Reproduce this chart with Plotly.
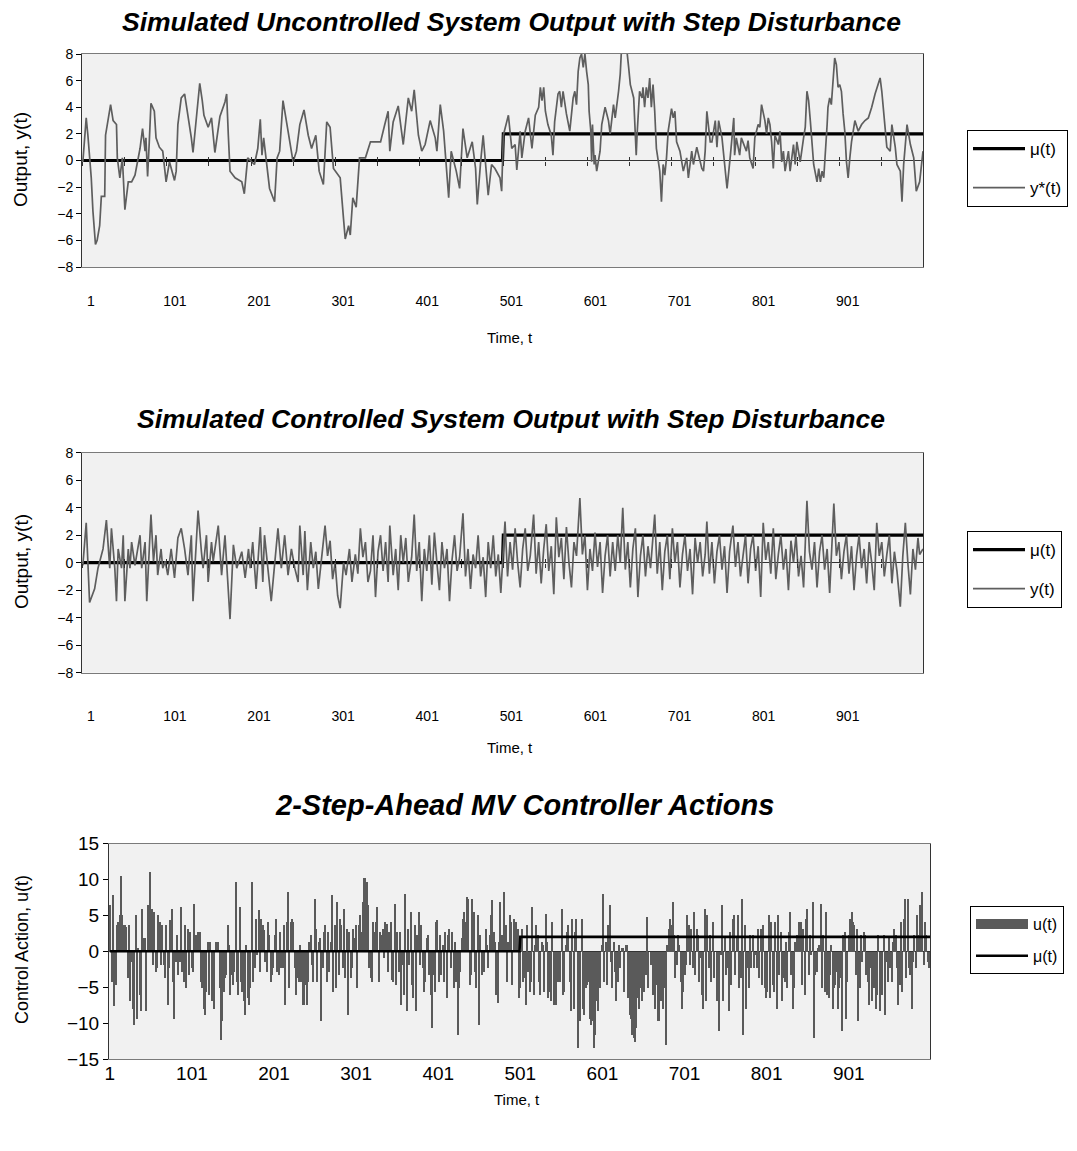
import numpy as np
import plotly.graph_objects as go

# ---------------- data ----------------
tick_t = [1, 101, 201, 301, 401, 501, 601, 701, 801, 901]
tick_lbl = [str(v) for v in tick_t]
minor_t = list(range(1, 1001, 50))   # category tick marks on the zero axis

mu_t = [1, 500, 501, 1000]
mu = [0, 0, 2, 2]

# Uncontrolled output y*(t)
t_ystar = [1,5,7,11,13,16,18,21,23,27,28,31,34,37,41,42,45,48,51,55,59,63,69,72,75,76,78,80,82,86,88,92,96,100,104,110,112,114,118,122,126,130,132,136,140,143,145,150,154,158,164,170,172,174,176,182,190,193,197,205,209,212,214,216,223,229,232,235,239,245,251,
255,259,264,269,273,278,282,287,291,295,299,307,311,313,317,319,322,326,330,337,343,349,355,360,364,366,370,376,382,388,392,395,400,404,408,414,420,422,426,430,434,436,439,445,449,453,458,464,468,470,474,477,483,487,491,497,499,
501,505,507,511,515,517,521,523,527,531,535,539,543,545,547,549,551,554,558,560,562,566,568,570,572,576,580,584,586,588,590,592,594,596,598,600,602,603,605,606,607,609,610,612,616,618,622,626,628,632,634,638,640,642,644,646,648,650,652,656,658,659,660,663,666,667,669,671,673,675,677,679,681,683,687,689,691,693,695,697,701,703,705,707,711,715,719,721,725,727,731,737,739,741,743,747,
749,753,755,757,761,765,767,771,775,776,778,782,784,790,792,794,798,800,804,806,808,812,814,816,818,820,822,824,828,830,832,834,836,840,842,846,848,850,854,858,860,862,864,866,868,870,874,876,878,880,882,884,886,887,889,891,893,895,897,899,901,903,905,907,909,911,913,915,919,923,927,931,935,939,943,947,949,951,953,955,957,961,963,967,969,973,975,977,981,985,989,992,996,1000]
ystar = [-0.1,3.2,1.9,-1.3,-3.8,-6.3,-6.0,-4.9,-2.7,-2.7,1.9,2.9,4.2,3.0,2.7,0.2,-1.3,0.2,-3.7,-1.6,-1.6,-1.1,0.9,2.4,0.7,1.7,-1.2,1.4,4.3,3.7,1.7,1.0,0.7,-1.6,-0.1,-1.5,-0.8,2.7,4.7,5.0,3.4,1.7,0.6,3.4,5.8,4.5,3.4,2.5,3.2,0.6,3.3,4.4,5.0,1.9,-0.8,-1.3,-1.6,-2.5,0.2,-0.3,0.9,3.1,0.4,1.7,-2.1,-3.1,0.2,0.7,4.5,2.2,-0.1,
0.7,2.7,3.8,1.9,0.9,1.9,-0.8,-1.8,2.9,2.5,-0.6,-1.3,-4.4,-5.9,-4.9,-5.6,-2.8,-3.5,0.2,0.2,1.4,1.4,1.4,2.7,3.7,0.7,2.9,4.1,1.2,4.7,3.7,5.3,1.9,0.7,1.2,3.0,1.7,0.7,4.2,2.2,-0.8,-2.8,0.7,-0.8,-2.1,2.4,0.2,1.4,-0.6,-3.3,-0.1,1.9,-2.6,-0.3,-0.6,-1.3,-2.3,
1.9,2.9,3.4,0.9,1.2,-0.7,2.2,0.2,2.2,3.2,0.9,3.4,4.0,5.5,4.5,5.5,3.7,2.7,1.9,0.4,2.9,5.0,5.2,4.0,5.2,3.5,2.2,4.7,5.2,4.2,6.7,7.7,8.0,7.0,8.0,6.7,5.7,3.7,2.2,-0.1,2.7,-0.3,0.4,-0.8,0.7,2.7,4.0,3.0,2.0,4.2,3.2,5.2,6.5,9.0,9.7,9.0,8.2,7.0,5.7,4.7,1.2,0.4,1.9,5.2,4.7,5.5,4.0,5.5,4.7,6.2,4.0,5.7,3.7,0.9,-0.8,-3.1,-0.3,-1.1,0.2,2.2,3.9,3.2,3.7,1.4,0.7,-0.8,0.2,-1.3,0.7,-0.3,1.0,-0.6,-0.8,0.7,3.7,1.4,
1.4,3.0,1.0,3.0,1.7,-0.8,-2.1,0.4,3.2,0.4,1.7,0.4,1.7,0.7,1.5,0.2,-0.6,1.7,2.7,2.5,4.2,3.0,2.0,3.2,2.7,1.4,-0.6,1.9,1.2,2.2,-0.1,0.7,-0.8,0.7,-0.8,1.2,-0.3,1.4,-0.1,1.7,2.5,5.2,4.5,3.0,1.5,-0.3,-1.6,-0.6,-1.6,-0.8,-1.3,0.4,2.7,4.0,4.7,4.2,6.2,7.7,7.2,5.5,5.7,5.2,3.5,2.2,-0.1,-1.3,0.2,1.4,3.0,2.2,2.7,3.0,3.2,4.0,5.0,5.7,6.2,5.2,3.7,2.0,1.0,0.7,2.7,1.0,-0.3,-0.8,-3.1,-0.3,2.7,1.2,0.2,-2.3,-1.6,0.7]

# Controlled output y(t)
t_y = [1,5,9,15,19,25,29,31,33,35,39,41,43,47,49,51,55,57,59,63,69,71,75,77,82,85,88,90,94,96,99,102,106,110,114,118,122,126,130,132,138,142,144,148,150,154,156,162,166,170,176,180,184,190,194,198,200,203,207,212,215,217,221,225,233,237,241,245,249,253,
257,259,263,265,268,272,275,278,281,285,289,292,295,298,301,304,307,311,314,318,321,325,328,331,334,337,340,343,346,349,352,355,358,361,364,366,370,373,376,379,382,385,388,392,395,398,401,404,407,410,413,416,419,422,425,428,431,434,437,440,443,446,449,453,456,459,462,465,468,471,474,477,480,483,486,489,492,495,498,501,503,
506,509,512,515,518,521,524,527,530,533,537,540,543,546,549,552,555,558,561,564,567,570,573,576,579,582,585,588,592,595,598,601,604,607,610,613,616,619,622,625,628,631,634,637,640,643,646,649,652,655,658,661,664,667,670,673,676,679,681,684,687,690,693,696,699,702,705,708,711,714,717,720,723,726,729,732,735,738,741,743,746,
749,752,755,758,761,764,767,770,774,777,780,783,786,789,792,795,798,801,804,807,810,813,816,819,822,825,828,831,834,837,840,843,846,849,852,855,858,862,865,868,871,874,877,880,883,886,889,894,897,900,903,906,909,912,915,918,921,924,927,930,933,936,939,942,945,948,951,954,957,960,963,966,969,973,976,979,982,985,988,991,994,996,1000]
y = [-0.2,2.9,-2.9,-1.9,-0.4,1.0,3.1,1.5,-0.4,2.5,-0.4,-2.8,1.0,-0.4,2.0,-2.8,1.0,-0.4,1.5,-0.2,2.0,-0.4,1.5,-2.8,3.5,0.1,2.0,-0.9,1.0,-0.4,0.1,-0.9,1.0,-1.1,1.8,2.5,1.0,-0.9,2.0,-2.8,3.8,0.8,-0.4,2.0,-1.4,1.5,0.1,2.7,-0.9,2.0,-4.1,1.3,-0.4,0.8,-1.1,1.0,-0.4,1.5,-1.9,2.6,-1.4,2.0,-0.4,-2.8,2.5,-0.4,2.0,-0.9,1.0,-0.4,
-1.4,2.7,-0.9,2.3,-2.0,1.5,-0.4,0.8,-1.9,0.2,2.7,0.5,1.6,-1.2,0.0,-2.4,-3.3,0.0,-0.9,1.0,-1.4,0.6,-0.8,2.5,0.4,1.5,-1.4,-0.6,2.0,-2.5,0.8,2.0,-0.6,1.5,-1.4,2.7,-0.9,1.0,-2.0,2.0,0.0,1.8,-1.4,0.4,3.5,-0.6,1.5,-2.8,1.0,-0.6,2.0,-1.6,2.2,0.0,-2.0,1.5,-0.4,1.0,-2.8,0.2,2.0,-0.6,0.4,3.6,-1.0,1.0,-1.9,0.6,-0.4,2.0,-1.0,0.4,-2.5,1.5,-0.4,2.0,-1.0,0.6,-2.2,1.0,3.0,
-1.0,1.5,-0.5,2.5,0.0,-1.8,1.0,2.5,-0.6,0.5,3.5,-0.8,1.5,-1.5,1.0,2.8,-0.6,1.2,-2.3,3.3,0.4,1.8,-1.2,2.6,0.0,-1.8,1.5,0.5,4.7,0.6,2.0,-2.0,1.0,-0.6,2.2,-0.3,1.5,-2.2,0.5,2.0,-1.0,1.5,-0.6,2.0,0.0,4.0,-0.5,1.5,-1.8,1.0,2.5,-2.5,0.5,2.0,-1.0,1.2,-0.4,2.0,3.5,-0.8,1.5,-2.0,0.8,2.0,-1.2,2.5,0.0,1.5,-1.8,0.6,2.0,-0.6,1.0,-2.3,1.8,0.0,1.5,-1.0,0.6,3.0,-0.8,
1.5,-1.5,0.8,2.0,-0.5,1.2,-2.2,0.8,2.7,-0.3,1.5,-1.0,0.5,2.0,-1.5,1.0,2.0,-0.6,1.2,-2.5,2.9,0.2,1.5,-0.8,2.5,-1.2,0.6,2.0,-0.5,1.0,-2.0,1.6,0.0,2.0,-1.0,0.5,-1.8,4.5,0.8,-0.5,1.5,-1.8,0.8,2.0,-0.5,1.0,-2.2,4.3,0.5,1.5,-1.2,0.8,2.0,-0.8,1.2,-2.0,0.5,2.0,-0.4,1.0,-1.5,1.5,0.0,-2.0,2.9,0.5,1.5,-1.0,0.6,2.0,-1.5,0.8,-0.6,-3.2,0.5,2.9,0.0,-2.3,1.0,-0.5,1.8,0.6,1.0]

# Control action u(t)
u = [6.5,-4.2,7.9,-7.6,-4.6,3.7,4.2,5.1,10.6,5.1,3.7,3.7,3.5,-3.7,3.7,-6.9,-1.4,-7.9,-10.2,5.1,-9.3,0.5,-6.0,-8.3,6.0,1.9,1.9,-8.3,6.5,1.9,11.1,6.0,-1.9,5.6,-2.8,-2.3,5.1,4.2,-1.9,3.7,-1.9,-3.7,3.7,-7.4,-2.3,4.4,6.0,-4.2,-9.3,-1.4,2.3,-3.2,-1.4,6.3,-2.8,-4.2,3.7,-5.1,3.2,-3.2,2.8,-2.3,-2.8,6.7,2.3,2.3,2.8,2.8,-4.2,-5.1,-7.9,-8.8,-5.6,1.4,-6.0,1.4,-6.9,-6.0,-7.9,1.4,0.5,1.4,-5.1,-12.3,-9.7,-5.6,-3.7,-3.2,3.7,0.9,-6.0,-3.2,-4.6,-2.8,9.7,-4.2,-6.0,6.3,-4.2,-5.6,-6.9,-8.8,0.9,-6.5,-7.4,-5.1,9.7,-4.2,-2.3,4.6,-0.5,5.8,-2.8,4.6,3.7,3.0,-1.4,-2.8,4.2,2.3,-4.2,-3.2,-2.3,2.3,4.6,-2.8,-3.2,2.8,-2.3,-2.3,3.7,-7.4,4.2,8.3,-5.1,4.2,4.6,4.2,-2.3,-6.0,-3.7,-4.2,0.9,-4.2,-7.4,-7.4,-4.6,-7.4,-4.2,1.4,2.3,-1.9,-4.2,7.4,3.2,-4.2,1.4,1.9,-9.7,-2.3,2.8,3.7,-4.2,2.8,-2.8,1.4,7.9,-5.6,3.7,-5.1,6.9,-3.2,4.6,3.7,-2.3,6.0,-3.7,3.2,-8.8,2.8,-3.7,-2.3,3.2,1.9,3.7,-5.1,3.7,5.1,2.8,6.9,10.2,
10.2,9.7,6.5,-2.3,-3.7,-4.2,4.2,2.8,4.2,6.3,-4.2,2.8,2.3,3.2,-0.9,4.2,3.9,-2.8,2.8,4.2,-3.9,-4.2,6.7,-4.6,2.8,-2.8,2.8,-7.4,-1.9,-6.0,8.1,-8.3,3.2,-1.9,5.6,-4.6,-6.5,3.7,-8.3,2.3,5.6,-1.9,3.7,-2.3,-5.6,-4.2,1.9,2.3,-3.2,-6.0,-10.6,-3.2,-5.6,4.2,4.4,-4.2,2.3,-3.2,0.9,-4.2,2.8,-6.5,2.3,3.2,-2.3,2.8,-5.1,1.4,-4.2,-11.6,-5.1,-2.8,1.9,4.6,5.6,4.2,7.6,7.4,-4.6,-3.2,7.4,5.6,-2.8,-5.1,5.1,-10.2,2.3,-3.2,-0.5,-2.8,3.2,0.9,-2.3,2.3,5.1,7.2,2.8,1.4,-6.0,-7.2,1.4,6.9,2.3,2.3,8.3,3.7,-4.2,1.4,5.1,4.2,-4.6,4.6,3.7,4.2,3.2,-6.5,-5.1,3.2,-4.2,-3.7,-7.4,3.7,-2.8,-5.6,-4.2,6.3,-6.0,0.9,3.7,2.3,-4.2,-6.0,1.4,0.9,-5.6,5.3,1.4,-6.5,-5.6,-6.9,4.2,-7.4,-6.5,-7.4,-4.2,-2.3,-4.2,6.0,-6.0,-5.6,0.9,2.8,3.7,-4.2,-8.3,4.6,-7.9,2.8,4.6,-13.4,-4.2,-9.7,4.6,-7.9,-8.8,-5.1,-4.6,-4.2,-9.3,-10.2,-9.7,-13.4,-11.6,-6.9,-8.3,-4.2,-5.1,0.9,8.1,-4.2,1.4,-4.6,3.7,6.5,-1.4,-5.1,1.4,-2.8,-6.9,-4.2,0.9,-2.3,0.5,0.5,-5.6,0.9,0.9,-6.5,-8.8,-9.3,-11.6,-12.0,-12.5,-10.6,-6.5,-7.9,-5.1,-6.9,-4.2,-5.6,
-3.2,4.9,-5.1,0.0,-1.9,-6.0,-2.8,-7.9,-4.6,-9.7,-9.7,-6.9,-4.6,-7.9,-5.1,-13.0,0.9,3.2,4.6,3.7,6.9,2.3,-3.7,-1.9,2.3,0.9,-4.2,-7.9,-5.6,-3.2,-1.9,5.1,3.7,-1.9,3.2,-2.3,5.6,-3.2,3.2,2.3,-4.2,-0.9,-6.0,-7.9,6.0,-6.9,5.1,-2.3,2.3,-4.2,4.2,-3.7,0.0,-6.9,-2.3,-11.1,-0.5,6.5,-6.9,1.9,-3.2,-2.3,-8.3,2.8,-4.6,4.6,5.1,-3.2,1.9,5.1,-5.1,-3.7,7.4,-11.6,3.7,-7.9,-2.3,-5.1,2.3,-2.3,2.3,-2.3,-0.5,-2.3,3.2,-3.7,3.2,-4.6,3.7,-5.1,-6.5,-5.6,5.1,-6.5,4.2,-4.6,-5.6,4.2,-7.9,5.1,-3.2,2.8,-6.9,-3.7,-4.2,1.4,-5.1,2.8,5.6,-3.2,-7.9,-5.1,1.4,2.3,0.9,4.2,4.2,-4.6,3.2,-6.0,4.6,6.0,-3.2,2.3,-0.5,6.9,-12.0,-3.2,-2.8,0.5,0.9,6.7,-5.1,2.3,-5.6,5.6,-6.0,-6.5,-3.2,0.9,-7.9,-5.1,-4.6,-2.8,-7.9,-5.1,-3.7,-11.1,2.3,2.8,-9.3,-4.2,2.3,4.6,5.6,4.2,3.7,-3.2,3.2,-9.7,-5.1,2.3,-1.4,2.8,2.3,-3.2,-4.2,-7.4,-2.3,-6.9,-0.9,-5.1,-7.9,-6.0,2.3,-8.3,0.0,-6.0,2.3,-8.8,-1.4,-4.2,1.9,-2.3,-4.2,1.4,3.2,2.3,-2.3,-7.4,-4.6,4.2,-5.6,4.6,7.4,-3.7,7.4,-2.3,-3.2,-7.9,-1.4,2.3,-2.3,5.1,2.3,6.5,4.6,8.3,-1.9,4.2,2.3,-1.4,-2.3]
t_u = np.linspace(1.6, 998.8, len(u))

# ---------------- figure ----------------
FONT = "Liberation Sans, Arial, sans-serif"
W, H = 1077, 1151
PAGE_OFF = 8          # the html body margin shifts the figure by 8 px
GRAY_LINE = "#5e5e5e"
BAR_GRAY = "#5a5a5a"
BG = "#f1f1f1"


def px_x(px):
    return (px - PAGE_OFF) / W


def px_y(py):
    return 1 - (py - PAGE_OFF) / H


P1 = [px_y(267), px_y(54)]
P2 = [px_y(672.7), px_y(452.7)]
P3 = [px_y(1059), px_y(843.5)]
xdom12 = [px_x(82), px_x(923)]
xdom3 = [px_x(109), px_x(930)]

fig = go.Figure()

# Panel 1
fig.add_trace(go.Scatter(x=mu_t, y=mu, mode="lines", name="\u03bc(t)",
                         line=dict(color="black", width=3.2), xaxis="x", yaxis="y",
                         legend="legend", legendgroup="a1"))
fig.add_trace(go.Scatter(x=t_ystar, y=ystar, mode="lines", name="y*(t)",
                         line=dict(color=GRAY_LINE, width=1.7), xaxis="x", yaxis="y",
                         legend="legend", legendgroup="b1"))
# Panel 2
fig.add_trace(go.Scatter(x=mu_t, y=mu, mode="lines", name="\u03bc(t)",
                         line=dict(color="black", width=3.2), xaxis="x2", yaxis="y2",
                         legend="legend2", legendgroup="a2"))
fig.add_trace(go.Scatter(x=t_y, y=y, mode="lines", name="y(t)",
                         line=dict(color=GRAY_LINE, width=1.7), xaxis="x2", yaxis="y2",
                         legend="legend2", legendgroup="b2"))
# Panel 3 (bar legend shown as a wide grey swatch, like the original)
fig.add_trace(go.Bar(x=t_u, y=u, name="u(t)", width=1.35,
                     marker=dict(color=BAR_GRAY, line=dict(width=0)),
                     xaxis="x3", yaxis="y3", showlegend=False, legendgroup="a3"))
fig.add_trace(go.Scatter(x=[None], y=[None], mode="lines", name="u(t)",
                         line=dict(color=BAR_GRAY, width=13), xaxis="x3", yaxis="y3",
                         legend="legend3", legendgroup="a3", hoverinfo="skip"))
fig.add_trace(go.Scatter(x=mu_t, y=mu, mode="lines", name="\u03bc(t)",
                         line=dict(color="black", width=2.6), xaxis="x3", yaxis="y3",
                         legend="legend3", legendgroup="b3"))

# carrier traces for the zero-axis tick marks (no visible marks)
for xa, ya in [("x4", "y"), ("x5", "y"), ("x6", "y2"), ("x7", "y2")]:
    fig.add_trace(go.Scatter(x=[None], y=[None], xaxis=xa, yaxis=ya,
                             showlegend=False, hoverinfo="skip"))

common_x = dict(range=[0, 1000], tickmode="array", tickvals=tick_t, ticktext=tick_lbl,
                showgrid=False, zeroline=False, showline=True, mirror=True,
                linecolor="#7a7a7a", linewidth=1, ticks="", automargin=False)
common_y = dict(showgrid=False, zeroline=True, zerolinecolor="#333333", zerolinewidth=1,
                showline=True, mirror=True, linecolor="#333333", linewidth=1,
                ticks="outside", ticklen=5, tickcolor="black", automargin=False)


def zero_ticks(base, pos, direction):
    return dict(overlaying=base, anchor="free", position=pos, range=[0, 1000],
                tickmode="array", tickvals=minor_t, showticklabels=False,
                ticks=direction, ticklen=4, tickcolor="#333333", tickwidth=1,
                showline=False, showgrid=False, zeroline=False, automargin=False)


legend_common = dict(xanchor="left", yanchor="top", bordercolor="black", borderwidth=1,
                     bgcolor="white", traceorder="grouped", itemwidth=52)

fig.update_layout(
    width=W, height=H,
    margin=dict(l=0, r=0, t=0, b=0),
    paper_bgcolor="white", plot_bgcolor=BG,
    font=dict(family=FONT, color="black", size=14),
    showlegend=True,
    bargap=0,
    xaxis=dict(domain=xdom12, anchor="y", tickfont=dict(size=14),
               ticklabelstandoff=21, ticklabelshift=8, **common_x),
    yaxis=dict(domain=P1, anchor="x", range=[-8, 8], dtick=2,
               tickfont=dict(size=14), **common_y),
    xaxis2=dict(domain=xdom12, anchor="y2", tickfont=dict(size=14),
                ticklabelstandoff=30, ticklabelshift=8, **common_x),
    yaxis2=dict(domain=P2, anchor="x2", range=[-8, 8], dtick=2,
                tickfont=dict(size=14), **common_y),
    xaxis3=dict(domain=xdom3, anchor="y3", tickfont=dict(size=19),
                ticklabelstandoff=-3, **common_x),
    yaxis3=dict(domain=P3, anchor="x3", range=[-15, 15], dtick=5,
                tickfont=dict(size=19), **common_y),
    xaxis4=zero_ticks("x", (P1[0] + P1[1]) / 2, "outside"),
    xaxis5=zero_ticks("x", (P1[0] + P1[1]) / 2, "inside"),
    xaxis6=zero_ticks("x2", (P2[0] + P2[1]) / 2, "outside"),
    xaxis7=zero_ticks("x2", (P2[0] + P2[1]) / 2, "inside"),
    legend=dict(x=px_x(967), y=px_y(130), tracegroupgap=14, font=dict(size=17), **legend_common),
    legend2=dict(x=px_x(967), y=px_y(531), tracegroupgap=14, font=dict(size=17), **legend_common),
    legend3=dict(x=px_x(970), y=px_y(906), tracegroupgap=8, font=dict(size=16), **legend_common),
)

ann = []


def text(xp, yp, s, size, angle=0):
    ann.append(dict(x=px_x(xp), y=px_y(yp), xref="paper", yref="paper", text=s,
                    showarrow=False, textangle=angle, xanchor="center", yanchor="middle",
                    font=dict(family=FONT, size=size, color="black")))


text(511, 22, "<b><i>Simulated Uncontrolled System Output with Step Disturbance</i></b>", 26.5)
text(511, 419, "<b><i>Simulated Controlled System Output with Step Disturbance</i></b>", 26.5)
text(524, 805, "<b><i>2-Step-Ahead MV Controller Actions</i></b>", 29)
text(21, 160, "Output, y(t)", 19, -90)
text(21, 562, "Output, y(t)", 19, -90)
text(22, 950, "Control Action, u(t)", 18, -90)
text(510, 338, "Time, t", 15)
text(510, 747, "Time, t", 15)
text(517, 1099, "Time, t", 15)
fig.update_layout(annotations=ann)

fig.write_html("out.html")
